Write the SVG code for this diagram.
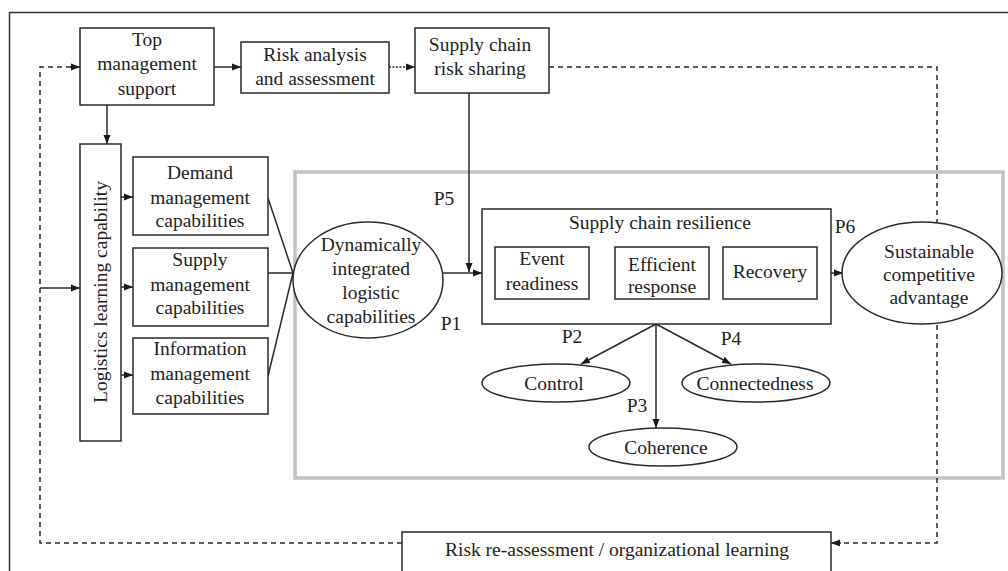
<svg xmlns="http://www.w3.org/2000/svg" width="1008" height="571" viewBox="0 0 1008 571">
<defs>
<marker id="ah" markerUnits="userSpaceOnUse" markerWidth="10" markerHeight="8" refX="9" refY="4" orient="auto">
<path d="M0,0.5 L9,4 L0,7.5 Z" fill="#1a1a1a"/>
</marker>
</defs>
<style>
text{font-family:"Liberation Serif","Times New Roman",serif;font-size:19.5px;fill:#1e1e1e;text-anchor:middle}
.box{fill:#fff;stroke:#2a2a2a;stroke-width:1.5}
.ell{fill:#fff;stroke:#2a2a2a;stroke-width:1.5}
.ln{fill:none;stroke:#2a2a2a;stroke-width:1.5}
.arr{fill:none;stroke:#2a2a2a;stroke-width:1.5;marker-end:url(#ah)}
.dash{fill:none;stroke:#2a2a2a;stroke-width:1.5;stroke-dasharray:5 4}
.dot{stroke-dasharray:2 1.5}
</style>
<rect width="1008" height="571" fill="#fff"/>
<g id="frame">
<path d="M9.5,571 V12.5 H1008" fill="none" stroke="#333" stroke-width="1.5"/>
<rect x="295" y="172" width="708" height="306" fill="none" stroke="#c2c2c2" stroke-width="3.5"/>
</g>
<g id="connectors">
<path class="dash" d="M402,543 H40 V67 H71"/>
<path class="arr" d="M70,67 H80"/>
<path class="dash" d="M549,67 H937 V223"/>
<path class="dash" d="M937,325 V543 H840"/>
<path class="arr" d="M841,543 H831"/>
<path class="arr" d="M40,288 H80"/>
<path class="arr" d="M107,105 V144"/>
<path class="arr" d="M214,67 H241"/>
<path class="arr dot" d="M389,67 H415"/>
<path class="arr" d="M121,197 H133"/>
<path class="arr" d="M121,287 H133"/>
<path class="arr" d="M121,375 H133"/>
<path class="ln" d="M268,198 L293,273 M268,273 H293 M268,376 L293,273"/>
<path class="arr" d="M469,93 V272"/>
<path class="arr" d="M443,273 H482"/>
<path class="arr" d="M589,273 H615"/>
<path class="arr" d="M709,273 H723"/>
<path class="arr" d="M831,273 H843"/>
<path class="arr" d="M656,324 L581,364"/>
<path class="arr" d="M656,324 V428"/>
<path class="arr" d="M656,324 L731,364"/>
</g>
<g id="top-management">
<rect class="box" x="80" y="28" width="134" height="77"/>
<text x="147" y="46">Top</text>
<text x="147" y="70">management</text>
<text x="147" y="95">support</text>
</g>
<g id="risk-analysis">
<rect class="box" x="241" y="42" width="148" height="51"/>
<text x="315" y="61">Risk analysis</text>
<text x="315" y="85">and assessment</text>
</g>
<g id="risk-sharing">
<rect class="box" x="415" y="28" width="134" height="65"/>
<text x="480" y="51">Supply chain</text>
<text x="480" y="75">risk sharing</text>
</g>
<g id="logistics-learning">
<rect class="box" x="80" y="144" width="41" height="297"/>
<text transform="translate(107,292) rotate(-90)">Logistics learning capability</text>
</g>
<g id="demand">
<rect class="box" x="133" y="157" width="135" height="78"/>
<text x="200" y="179">Demand</text>
<text x="200" y="204">management</text>
<text x="200" y="227">capabilities</text>
</g>
<g id="supply">
<rect class="box" x="133" y="248" width="135" height="78"/>
<text x="200" y="266">Supply</text>
<text x="200" y="291">management</text>
<text x="200" y="314">capabilities</text>
</g>
<g id="information">
<rect class="box" x="133" y="338" width="135" height="76"/>
<text x="200" y="355">Information</text>
<text x="200" y="380">management</text>
<text x="200" y="404">capabilities</text>
</g>
<g id="dynamic">
<ellipse class="ell" cx="368" cy="280" rx="75" ry="58"/>
<text x="371" y="251">Dynamically</text>
<text x="371" y="275">integrated</text>
<text x="371" y="299">logistic</text>
<text x="371" y="323">capabilities</text>
</g>
<g id="resilience">
<rect class="box" x="482" y="209" width="349" height="115"/>
<text x="660" y="229">Supply chain resilience</text>
</g>
<g id="event">
<rect class="box" x="495" y="247" width="94" height="52"/>
<text x="542" y="265">Event</text>
<text x="542" y="290">readiness</text>
</g>
<g id="efficient">
<rect class="box" x="615" y="247" width="94" height="52"/>
<text x="662" y="271">Efficient</text>
<text x="662" y="293">response</text>
</g>
<g id="recovery">
<rect class="box" x="723" y="247" width="94" height="52"/>
<text x="770" y="278">Recovery</text>
</g>
<g id="sustainable">
<ellipse class="ell" cx="922" cy="273" rx="80" ry="51"/>
<text x="929" y="258">Sustainable</text>
<text x="929" y="281">competitive</text>
<text x="929" y="304">advantage</text>
</g>
<g id="control">
<ellipse class="ell" cx="556" cy="383" rx="74" ry="19"/>
<text x="554" y="390">Control</text>
</g>
<g id="connectedness">
<ellipse class="ell" cx="756" cy="383" rx="74" ry="19"/>
<text x="755" y="390">Connectedness</text>
</g>
<g id="coherence">
<ellipse class="ell" cx="663" cy="447" rx="74" ry="19"/>
<text x="666" y="454">Coherence</text>
</g>
<g id="reassessment">
<rect class="box" x="402" y="532" width="429" height="50"/>
<text x="617" y="556">Risk re-assessment / organizational learning</text>
</g>
<g id="labels">
<text x="444" y="205">P5</text>
<text x="451" y="330">P1</text>
<text x="845" y="233">P6</text>
<text x="572" y="343">P2</text>
<text x="731" y="345">P4</text>
<text x="637" y="412">P3</text>
</g>
</svg>
